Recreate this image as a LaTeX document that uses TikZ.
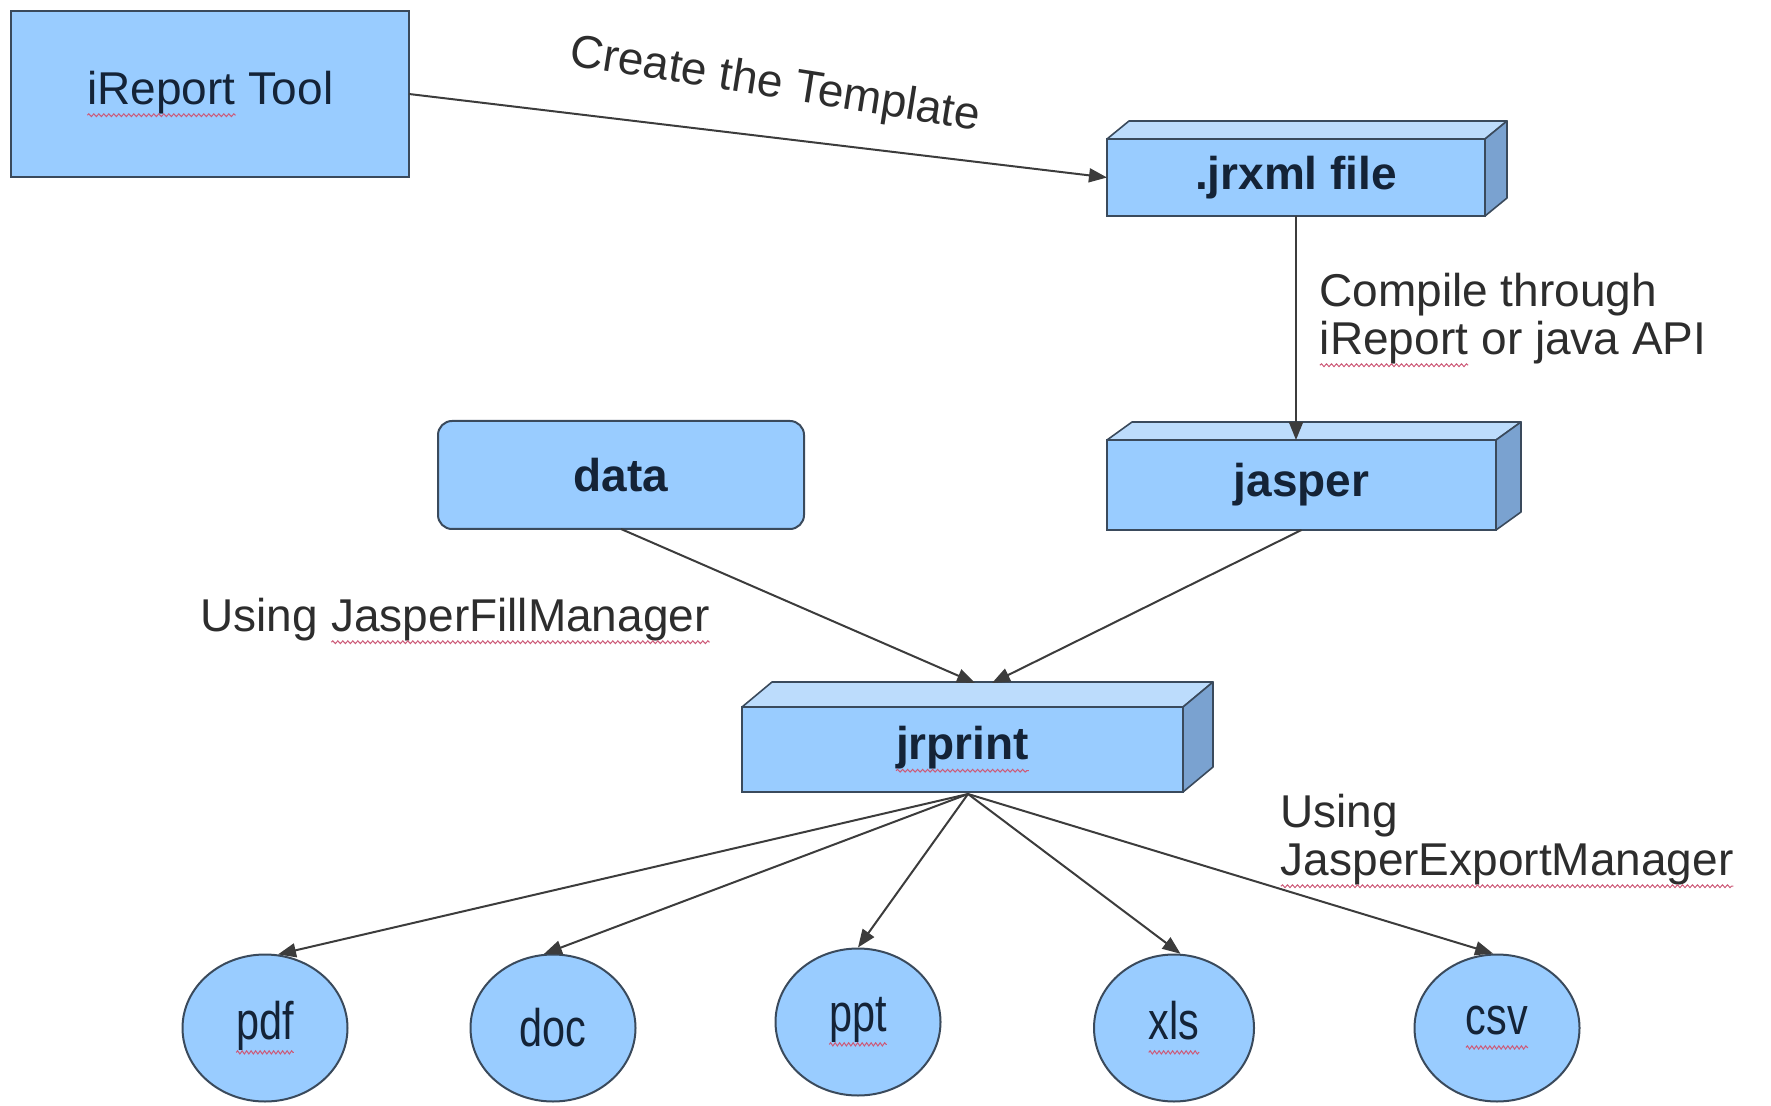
\documentclass[tikz,border=0pt]{standalone}
\usepackage{fontspec}
\setmainfont{Liberation Sans}
\usepackage{graphicx}
\usetikzlibrary{shapes.geometric,arrows.meta,decorations.pathmorphing}
\definecolor{boxfill}{RGB}{153,204,255}
\definecolor{boxtop}{RGB}{188,220,252}
\definecolor{boxside}{RGB}{122,162,208}
\definecolor{boxline}{RGB}{58,74,92}
\definecolor{arrowcol}{RGB}{60,60,60}
\definecolor{labcol}{RGB}{45,45,45}
\definecolor{boxtext}{RGB}{20,35,55}
\definecolor{squig}{RGB}{205,90,120}
\newcommand\redsq[1]{\tikz[baseline=(sqt.base)]{\node[shape=rectangle, draw=none, fill=none,
    minimum width=0pt, minimum height=0pt, inner sep=0pt, outer sep=0pt, rounded corners=0pt] (sqt) {#1};
  \draw[squig, line width=0.5pt, decorate, decoration={snake, amplitude=0.7pt, segment length=2.5pt}]
    ([yshift=-5.5pt]sqt.base west) -- ([yshift=-5.5pt]sqt.base east);}}
\newcommand\boxdepth[3]{%
  \filldraw[fill=boxtop, draw=boxline, line width=0.8pt, line join=round]
    (#1.north west) -- ++(#2,-#3) -- ([shift={(#2,-#3)}]#1.north east) -- (#1.north east) -- cycle;
  \filldraw[fill=boxside, draw=boxline, line width=0.8pt, line join=round]
    (#1.north east) -- ++(#2,-#3) -- ([shift={(#2,-#3)}]#1.south east) -- (#1.south east) -- cycle;}
\begin{document}
\begin{tikzpicture}[x=0.5pt,y=-0.5pt,
  box/.style={draw=boxline, line width=1pt, fill=boxfill, text=boxtext,
    font=\fontsize{23}{27}\selectfont, inner sep=0pt, outer sep=0pt},
  boldbox/.style={box, font=\fontsize{23}{27}\selectfont\bfseries},
  fmt/.style={ellipse, draw=boxline, line width=1pt, fill=boxfill, text=boxtext,
    minimum width=82.5pt, minimum height=73.5pt, inner sep=0pt,
    font=\fontsize{23}{27}\selectfont},
  conn/.style={draw=arrowcol, line width=1pt, -{Triangle[length=9pt,width=7pt]}},
  lab/.style={text=labcol, font=\fontsize{23}{24}\selectfont, inner sep=0pt, align=left}
]
\useasboundingbox (0,0) rectangle (1771,1106);

% boxes
\node[box, minimum width=199pt, minimum height=83pt] (ireport) at (210,94) {\redsq{iReport} Tool};
\node[boldbox, minimum width=189pt, minimum height=38.5pt] (jrxml) at (1296,177.5) {.jrxml file};
\boxdepth{jrxml}{22}{18}
\node[boldbox, minimum width=194.5pt, minimum height=45pt] (jasper) at (1301.5,485) {jasper};
\boxdepth{jasper}{25}{18}
\node[boldbox, rounded corners=7pt, minimum width=183pt, minimum height=54pt] (data) at (621,475) {data};
\node[boldbox, minimum width=220.5pt, minimum height=42.5pt] (jrprint) at (962.5,749.5) {\redsq{jrprint}};
\boxdepth{jrprint}{30}{25}

% output formats
\node[fmt] (pdf) at (265,1028) {\scalebox{0.9}[1.15]{\redsq{pdf}}};
\node[fmt] (doc) at (553,1028) {\scalebox{0.9}[1.15]{doc}};
\node[fmt] (ppt) at (858,1022) {\scalebox{0.9}[1.15]{\redsq{ppt}}};
\node[fmt, minimum width=80pt] (xls) at (1174,1028) {\scalebox{0.9}[1.15]{\redsq{xls}}};
\node[fmt] (csv) at (1497,1028) {\scalebox{0.9}[1.15]{\redsq{csv}}};

% helper coordinates
\coordinate (jin1) at (975,683);
\coordinate (jin2) at (992,683);
\coordinate (jout) at (968,794);

% connectors
\draw[conn] (ireport.east) -- (jrxml.west);
\draw[conn] (jrxml.south) -- (jrxml.south |- jasper.north);
\draw[conn] (data.south) -- (jin1);
\draw[conn] (jasper.south) -- (jin2);
\draw[conn] (jout) -- (pdf.80);
\draw[conn] (jout) -- (doc.97);
\draw[conn] (jout) -- (ppt.north);
\draw[conn] (jout) -- (xls.85);
\draw[conn] (jout) -- (csv.93);

% labels
\node[lab, rotate=-9] (lcreate) at (775,86) {Create the Template};
\node[lab, anchor=west] (lcompile) at (1319,320) {Compile through\\\redsq{iReport} or java API};
\node[lab, anchor=west] (lfill) at (200,621) {Using \redsq{JasperFillManager}};
\node[lab, anchor=west] (lexport) at (1280,841) {Using\\\redsq{JasperExportManager}};
\end{tikzpicture}
\end{document}
